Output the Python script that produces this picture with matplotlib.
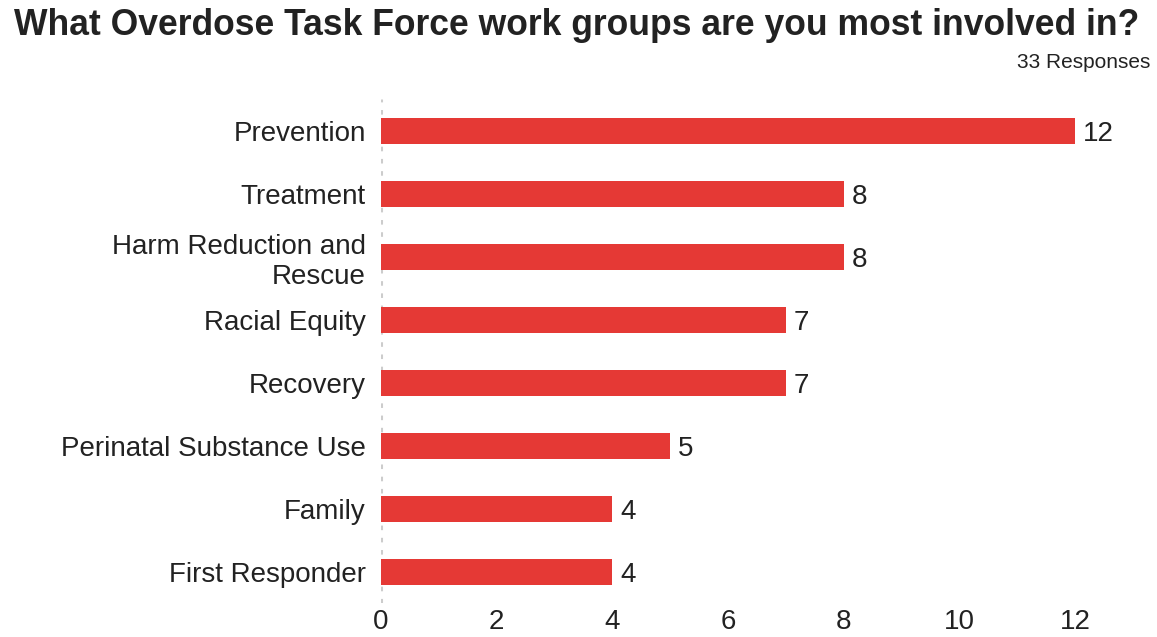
import matplotlib.pyplot as plt

plt.rcParams['font.family'] = ['Liberation Sans', 'DejaVu Sans']

# Data
groups = ['Prevention', 'Treatment', 'Harm Reduction and\nRescue', 'Racial Equity',
          'Recovery', 'Perinatal Substance Use', 'Family', 'First Responder']
counts = [12, 8, 8, 7, 7, 5, 4, 4]
xticks = [0, 2, 4, 6, 8, 10, 12]

BAR = '#e53935'
TXT = '#222222'

fig = plt.figure(figsize=(11.57, 6.37), dpi=100)
ax = fig.add_axes([0.3293, 0.0526, 0.9291 - 0.3293, 0.8438 - 0.0526])

ypos = list(range(len(groups)))
ax.barh(ypos, counts, height=0.41, color=BAR, zorder=2)
for y, v in zip(ypos, counts):
    ax.text(v + 0.14, y, str(v), va='center_baseline', ha='left', fontsize=20, color=TXT)

ax.set_xlim(0, 12)
ax.set_ylim(len(groups) - 0.5, -0.5)
ax.set_yticks(ypos)
ax.set_yticklabels(groups, fontsize=20, color=TXT, linespacing=1.22)
ax.set_xticks(xticks)
ax.set_xticklabels([str(t) for t in xticks], fontsize=20, color=TXT)
ax.tick_params(axis='x', length=0, pad=4)
ax.tick_params(axis='y', length=0, pad=11)

for s in ax.spines.values():
    s.set_visible(False)
ax.axvline(0, color='#cccccc', linestyle=(0, (1.5, 2.5)), lw=2.2, zorder=1)

fig.text(0.012, 0.96, 'What Overdose Task Force work groups are you most involved in?',
         fontsize=25.6, fontweight='bold', color=TXT, va='center', ha='left')
fig.text(0.994, 0.902, '33 Responses', fontsize=15, color=TXT, va='center', ha='right')

fig.savefig('out.png', dpi=100)
